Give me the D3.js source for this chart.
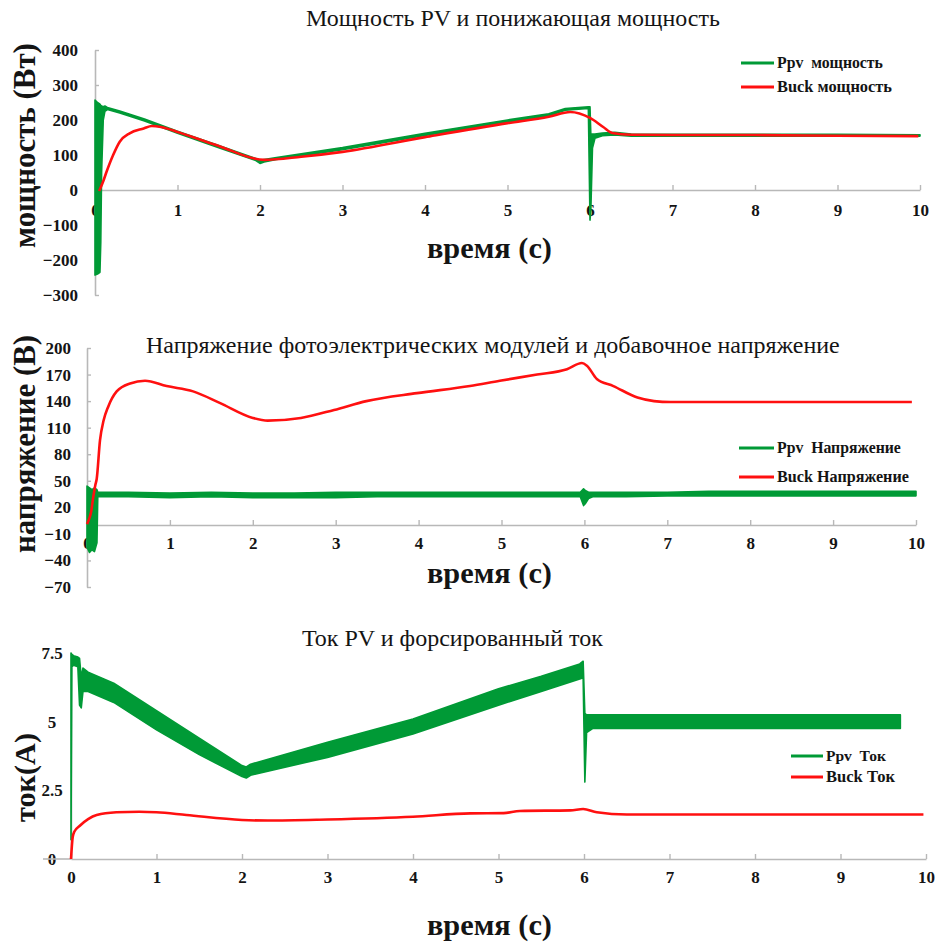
<!DOCTYPE html>
<html><head><meta charset="utf-8">
<script src="https://cdn.jsdelivr.net/npm/d3@7/dist/d3.min.js"></script>
<style>
html,body{margin:0;padding:0;background:#fff;}
svg text{font-family:"Liberation Serif","Times New Roman",serif;white-space:pre;}
</style></head>
<body>
<svg id="chart" width="942" height="944"></svg>
<script>
// ---------------- DATA ----------------
const xTicks = [0,1,2,3,4,5,6,7,8,9,10];

// Panel 1: power (W)
const powTitle = "Мощность PV и понижающая мощность";
const powYLabel = "мощность (Вт)";
const powYTicks = [400,300,200,100,0,-100,-200,-300];
const powLegend = ["Ppv  мощность","Buck мощность"];
const ppvPowT  = [0,0.03,0.06,0.07,0.08,0.1,0.12,0.15,0.3,0.6,1,1.5,1.95,2.0,2.05,2.2,3,4,5,5.5,5.7,5.98,6.0,6.01,6.03,6.06,6.15,6.3,6.5,7,8,9,10];
const ppvPowHi = [257,250,245,242,240,238,240,236,226,203,168,127,90,85,87,93,121,162,200,218,233,238,238,160,160,160,163,165,160,159,159,159,158];
const ppvPowLo = [-243,-240,-235,-150,50,200,225,230,220,197,162,121,84,76,80,87,115,156,193,212,228,233,-86,-60,120,148,155,157,154,154,154,154,154];
const buckPowT = [0.05,0.1,0.14,0.22,0.3,0.42,0.59,0.69,0.8,1,1.5,2.05,2.5,3,4,5,5.5,5.76,6.0,6.16,6.27,6.5,7,8,9,9.98];
const buckPow  = [-3,25,52,100,138,162,176,183,180,166,126,86,95,109,151,191,209,223,206,180,163,158,157,157,155,154];

// Panel 2: voltage (V)
const voltTitle = "Напряжение фотоэлектрических модулей и добавочное напряжение";
const voltYLabel = "напряжение (В)";
const voltYTicks = [200,170,140,110,80,50,20,-10,-40,-70];
const voltLegend = ["Ppv  Напряжение","Buck Напряжение"];
const ppvVoltT  = [0,0.03,0.06,0.09,0.12,0.13,0.2,0.5,1,1.5,2,2.5,3,3.5,4,4.5,5,5.5,5.95,5.99,6.01,6.05,6.1,6.5,7,7.5,8,8.5,9,9.5,10];
const ppvVoltHi = [44,42,40,42,40,37,37,37,36,37,36,36,37,37,37,37,37,37,37,41,39,37,37,37,37,38,38,38,38,38,38];
const ppvVoltLo = [-25,-31,-28,-30,-20,32,32,32,31,32,31,31,31,32,32,32,32,32,32,22,24,30,32,32,33,33,33,33,33,33,33];
const buckVoltT = [0,0.03,0.05,0.076,0.1,0.117,0.157,0.2,0.257,0.358,0.52,0.7,0.96,1.28,1.6,2.0,2.18,2.58,2.98,3.37,3.98,4.62,4.98,5.43,5.79,5.97,6.03,6.15,6.35,6.64,6.84,7.04,8,9,9.95];
const buckVolt  = [1,8,15,32,45,52,96,118,134,151,160,163,157,151,138,121,118,121,130,140,149,157,163,170,176,183,180,165,157,144,140,139,139,139,139];

// Panel 3: current (A)
const curTitle = "Ток PV и форсированный ток";
const curYLabel = "ток(А)";
const curYTicks = [7.5,5,2.5,0];
const curYTickLabels = ["7.5","5","2.5","0"];
const curLegend = ["Ppv  Ток","Buck Ток"];
const ppvCurT  = [0,0.01,0.03,0.08,0.1,0.12,0.14,0.2,0.5,1,1.5,2,2.05,2.1,3,4,5,5.5,5.95,5.99,6.01,6.03,6.1,7,8,9,9.7];
const ppvCurHi = [7.5,7.45,7.4,7.35,7.3,6.6,6.95,6.8,6.4,5.4,4.4,3.4,3.35,3.45,4.25,5.1,6.2,6.65,7.1,7.2,5.3,5.25,5.25,5.25,5.25,5.25,5.25];
const ppvCurLo = [0.7,7.0,7.05,7.0,5.6,5.5,6.1,6.1,5.7,4.7,3.8,3.0,2.95,3.05,3.7,4.55,5.6,6.1,6.55,6.6,2.8,4.6,4.75,4.75,4.75,4.75,4.75];
const buckCurT = [0,0.02,0.04,0.1,0.2,0.3,0.53,0.8,1.0,1.35,2.0,2.3,3.0,4.0,4.67,5.06,5.25,5.84,5.99,6.15,6.5,7,8,9,9.97];
const buckCur  = [0,0.8,1.0,1.2,1.45,1.6,1.7,1.72,1.7,1.6,1.42,1.4,1.44,1.54,1.66,1.67,1.75,1.77,1.82,1.7,1.62,1.62,1.62,1.62,1.62];

// ---------------- DRAW ----------------
const GREEN = "#009a36", RED = "#ff1010", AXIS = "#b8b8b8", INK = "#141414";
const svg = d3.select("#chart");

function fit(sel, target) {
  const n = sel.node(); const fs = parseFloat(sel.attr("font-size"));
  const len = n.getComputedTextLength();
  if (len > 0) sel.attr("font-size", (fs * target / len).toFixed(2));
  return sel;
}

function zip3(t, a, b) { return t.map((v,i)=>({t:v, hi:a[i], lo:b[i]})); }
function zip2(t, a) { return t.map((v,i)=>({t:v, v:a[i]})); }

function panel(cfg) {
  const g = svg.append("g");
  const x = d3.scaleLinear().domain([0,10]).range(cfg.xr);
  const y = d3.scaleLinear().domain(cfg.yd).range(cfg.yr);
  const y0 = y(cfg.yd[0] < 0 ? 0 : cfg.yd[0]);

  // x axis
  const xa = d3.axisBottom(x).tickValues(xTicks).tickFormat(d3.format("d"))
      .tickSizeInner(-5).tickSizeOuter(0).tickPadding(cfg.xpad);
  const gx = g.append("g").attr("transform", `translate(0,${y0})`).call(xa);
  // y axis
  const ya = d3.axisLeft(y).tickValues(cfg.yTicks)
      .tickFormat((d,i)=>cfg.yTickLabels ? cfg.yTickLabels[i] : d3.format("d")(d))
      .tickSizeInner(cfg.yTickIn).tickSizeOuter(0).tickPadding(cfg.ypad);
  const gy = g.append("g").attr("transform", `translate(${cfg.xr[0]},0)`).call(ya);
  [gx, gy].forEach(a => {
    a.attr("font-family", null).attr("font-size", null);
    a.select(".domain").attr("stroke", AXIS).attr("stroke-width", 1.6);
    a.selectAll(".tick line").attr("stroke", AXIS).attr("stroke-width", 1.4);
    a.selectAll("text").attr("font-size", 17).attr("font-weight", "bold").attr("fill", INK);
  });
  if (cfg.yLabelAnchor) gy.selectAll("text").attr("text-anchor", cfg.yLabelAnchor).attr("x", cfg.yLabelX);
  if (cfg.xExtendLeft) g.append("line").attr("x1", cfg.xExtendLeft).attr("x2", cfg.xr[0])
      .attr("y1", y0).attr("y2", y0).attr("stroke", AXIS).attr("stroke-width", 1.6);

  // series
  const area = d3.area().x(d=>x(d.t)).y0(d=>y(d.lo)).y1(d=>y(d.hi));
  g.append("path").datum(zip3(cfg.gT, cfg.gHi, cfg.gLo)).attr("d", area)
    .attr("fill", GREEN).attr("stroke", GREEN).attr("stroke-width", 1.6).attr("stroke-linejoin", "round");
  const line = d3.line().x(d=>x(d.t)).y(d=>y(d.v)).curve(d3.curveMonotoneX);
  g.append("path").datum(zip2(cfg.rT, cfg.rV)).attr("d", line)
    .attr("fill", "none").attr("stroke", RED).attr("stroke-width", 2.6).attr("stroke-linejoin", "round");

  // title
  const tt = g.append("text").text(cfg.title).attr("x", cfg.titleX).attr("y", cfg.titleY)
    .attr("font-size", 22).attr("fill", INK);
  fit(tt, cfg.titleW);
  // x title
  const xt = g.append("text").text("время (с)").attr("x", 427).attr("y", cfg.xTitleY)
    .attr("font-size", 26).attr("font-weight", "bold").attr("fill", INK);
  fit(xt, 125);
  // y title
  const yt = g.append("text").text(cfg.yLabel)
    .attr("transform", `translate(35,${cfg.yTitleBottom}) rotate(-90)`)
    .attr("font-size", 26).attr("font-weight", "bold").attr("fill", INK);
  fit(yt, cfg.yTitleLen);

  // legend
  const colors = [GREEN, RED];
  cfg.legend.forEach((lab, i) => {
    const ly = cfg.legY[i];
    g.append("line").attr("x1", cfg.legX[0]).attr("x2", cfg.legX[1]).attr("y1", ly).attr("y2", ly)
      .attr("stroke", colors[i]).attr("stroke-width", 3);
    const lt = g.append("text").text(lab).attr("x", cfg.legX[1] + 3).attr("y", ly + 5)
      .attr("font-size", 15).attr("font-weight", "bold").attr("fill", INK);
    fit(lt, cfg.legW[i]);
  });
}

panel({ xr:[95,920], yd:[-300,400], yr:[295,50], yTicks:powYTicks, xpad:14, ypad:17, yTickIn:-4,
  gT:ppvPowT, gHi:ppvPowHi, gLo:ppvPowLo, rT:buckPowT, rV:buckPow,
  title:powTitle, titleX:306, titleY:26, titleW:414, xTitleY:258,
  yLabel:powYLabel, yTitleBottom:248, yTitleLen:205,
  legend:powLegend, legX:[741,774], legY:[63,87], legW:[106,115] });

panel({ xr:[87,916], yd:[-70,200], yr:[587,348], yTicks:voltYTicks, xpad:12, ypad:16, yTickIn:-4,
  gT:ppvVoltT, gHi:ppvVoltHi, gLo:ppvVoltLo, rT:buckVoltT, rV:buckVolt,
  title:voltTitle, titleX:146, titleY:353, titleW:694, xTitleY:583,
  yLabel:voltYLabel, yTitleBottom:553, yTitleLen:218,
  legend:voltLegend, legX:[739,774], legY:[448,477], legW:[124,132] });

panel({ xr:[71,926], yd:[0,7.5], yr:[859,653], yTicks:curYTicks, yTickLabels:curYTickLabels,
  xpad:12, ypad:19, yTickIn:0, yLabelAnchor:"middle", yLabelX:-19, xExtendLeft:43,
  gT:ppvCurT, gHi:ppvCurHi, gLo:ppvCurLo, rT:buckCurT, rV:buckCur,
  title:curTitle, titleX:302, titleY:646, titleW:301, xTitleY:935,
  yLabel:curYLabel, yTitleBottom:822, yTitleLen:89,
  legend:curLegend, legX:[791,823], legY:[756,777], legW:[60,69] });
</script>
</body></html>
